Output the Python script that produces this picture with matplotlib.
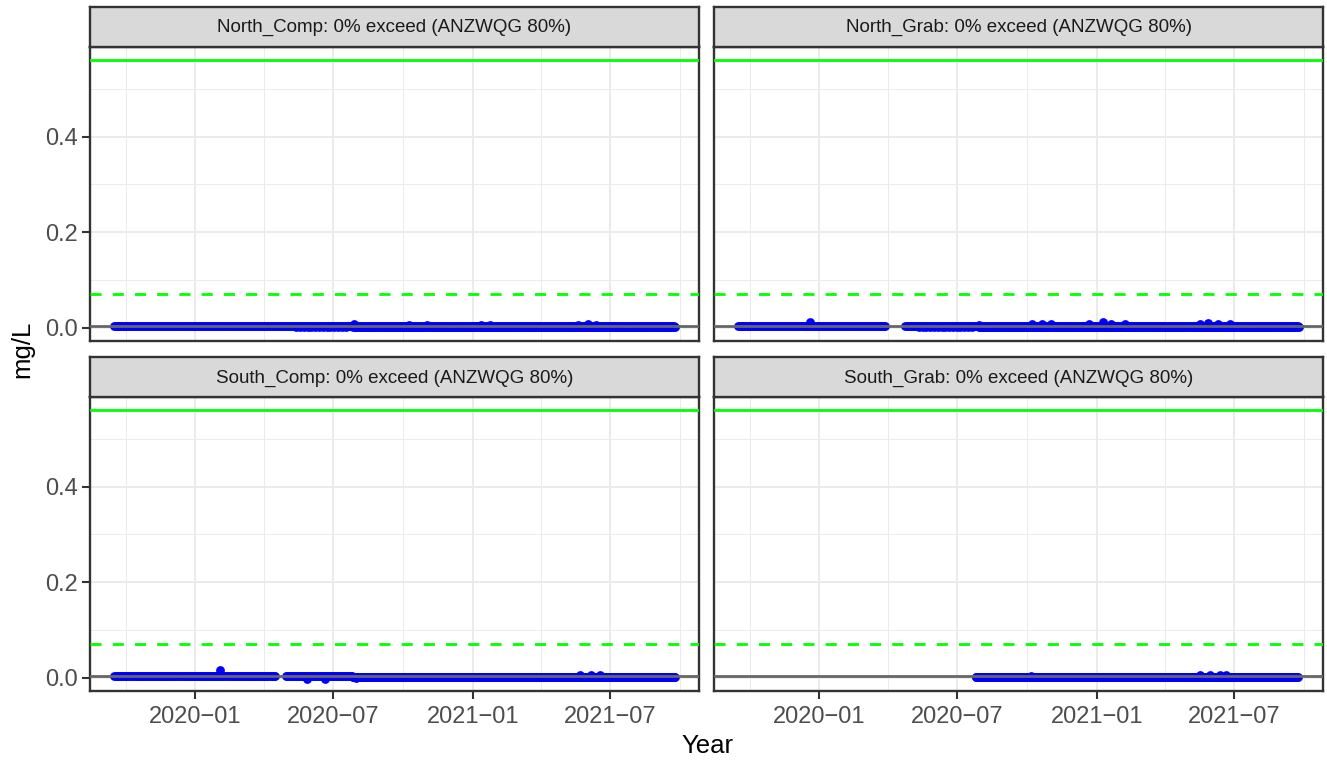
import numpy as np
import pandas as pd
import matplotlib
matplotlib.use("Agg")
import matplotlib.pyplot as plt
import matplotlib.dates as mdates
from matplotlib.ticker import FormatStrFormatter

plt.rcParams['font.family'] = ['Liberation Sans', 'DejaVu Sans']

# ---- data ----
sites = ["North_Comp", "North_Grab", "South_Comp", "South_Grab"]
exceed_pct = [0, 0, 0, 0]
guideline = "ANZWQG 80%"
trigger_high = 0.56      # solid green
trigger_low = 0.07       # dashed green
median_level = 0.003     # grey line

# sampling runs: (first date, last date, level mg/L, days between samples)
north_comp_runs = [("2019-09-16", "2021-09-24", 0.003, 2),
                   ("2020-05-13", "2020-07-20", 0.0005, 5),
                   ("2020-07-27", "2021-09-24", 0.001, 2)]
north_comp_peak_dates = ["2020-07-28", "2020-10-08", "2020-11-01", "2021-01-11",
                         "2021-01-24", "2021-05-20", "2021-06-01", "2021-06-12"]
north_comp_peak_vals = [0.007, 0.006, 0.006, 0.005, 0.005, 0.006, 0.007, 0.006]

north_grab_runs = [("2019-09-16", "2020-03-29", 0.003, 2),
                   ("2020-04-23", "2021-09-24", 0.003, 2),
                   ("2020-05-11", "2020-07-20", 0.0005, 5),
                   ("2020-07-29", "2021-09-24", 0.0008, 2)]
north_grab_peak_dates = ["2019-12-20", "2020-07-29", "2020-10-07", "2020-10-20",
                         "2020-11-02", "2020-12-22", "2021-01-09", "2021-01-20",
                         "2021-02-07", "2021-05-17", "2021-05-28", "2021-06-10",
                         "2021-06-25"]
north_grab_peak_vals = [0.011, 0.006, 0.008, 0.007, 0.007, 0.007, 0.012, 0.008,
                        0.007, 0.007, 0.010, 0.008, 0.007]

south_comp_runs = [("2019-09-16", "2020-04-16", 0.004, 2),
                   ("2020-04-29", "2020-07-26", 0.004, 2),
                   ("2020-07-27", "2021-09-24", 0.0015, 2),
                   ("2020-07-27", "2021-09-24", 0.0008, 3)]
south_comp_peak_dates = ["2020-02-03", "2020-05-27", "2020-06-20", "2020-07-31",
                         "2021-05-22", "2021-06-05", "2021-06-18"]
south_comp_peak_vals = [0.015, -0.002, -0.002, -0.001, 0.005, 0.006, 0.005]

south_grab_runs = [("2020-07-26", "2021-09-24", 0.0015, 2),
                   ("2020-07-26", "2021-09-24", 0.0005, 3)]
south_grab_peak_dates = ["2020-10-06", "2021-05-17", "2021-05-30", "2021-06-12",
                         "2021-06-20"]
south_grab_peak_vals = [0.004, 0.005, 0.006, 0.006, 0.005]

all_runs = [north_comp_runs, north_grab_runs, south_comp_runs, south_grab_runs]
all_peak_dates = [north_comp_peak_dates, north_grab_peak_dates,
                  south_comp_peak_dates, south_grab_peak_dates]
all_peak_vals = [north_comp_peak_vals, north_grab_peak_vals,
                 south_comp_peak_vals, south_grab_peak_vals]

# ---- layout ----
W, H = 1327, 764
fig = plt.figure(figsize=(W / 100, H / 100), dpi=100)

def px_axes(x0, y0, x1, y1):
    return fig.add_axes([x0 / W, 1 - y1 / H, (x1 - x0) / W, (y1 - y0) / H])

cols = [(90, 699), (714, 1323)]
rows = [(6.7, 46.7, 341), (357, 397, 691)]

xmin, xmax = pd.Timestamp("2019-08-15"), pd.Timestamp("2021-10-26")
major_x = pd.to_datetime(["2020-01-01", "2020-07-01", "2021-01-01", "2021-07-01"])
minor_x = pd.to_datetime(["2019-10-01", "2020-04-01", "2020-10-01", "2021-04-01", "2021-10-01"])
dark = "#333333"

for k in range(4):
    r, c = divmod(k, 2)
    x0, x1 = cols[c]
    sy0, py0, py1 = rows[r]

    ax = px_axes(x0, py0, x1, py1)
    ax.set_xlim(xmin, xmax)
    ax.set_ylim(-0.028, 0.588)
    ax.set_xticks(major_x)
    ax.set_xticks(minor_x, minor=True)
    ax.set_yticks([0.0, 0.2, 0.4])
    ax.set_yticks([0.1, 0.3, 0.5], minor=True)
    ax.grid(which="major", color="#EBEBEB", lw=1.4)
    ax.grid(which="minor", color="#EBEBEB", lw=0.7)
    ax.set_axisbelow(True)

    for start, end, lvl, step in all_runs[k]:
        d = pd.date_range(start, end, freq=f"{step}D")
        ax.scatter(d, np.full(len(d), lvl), s=40, color="#0000FF", lw=0, zorder=3)
    ax.scatter(pd.to_datetime(all_peak_dates[k]), all_peak_vals[k], s=40,
               color="#0000FF", lw=0, zorder=3)

    ax.axhline(median_level, color="#666666", lw=2, zorder=4)
    ax.axhline(trigger_high, color="#00FF00", lw=2, zorder=4)
    ax.axhline(trigger_low, color="#00FF00", lw=2, ls=(0, (4, 4)), zorder=4)

    for s in ax.spines.values():
        s.set_color(dark)
        s.set_linewidth(1.7)
    ax.tick_params(which="minor", length=0)
    ax.xaxis.set_major_formatter(mdates.DateFormatter("%Y\u2212%m"))
    ax.yaxis.set_major_formatter(FormatStrFormatter("%.1f"))
    ax.tick_params(which="major", labelsize=17, labelcolor="#4D4D4D",
                   color=dark, width=1.5)
    if c == 0:
        ax.tick_params(axis="y", length=5.5, pad=3)
    else:
        ax.tick_params(axis="y", length=0, labelleft=False)
    if r == 1:
        ax.tick_params(axis="x", length=5.5, pad=5)
    else:
        ax.tick_params(axis="x", length=0, labelbottom=False)

    sax = px_axes(x0, sy0, x1, py0)
    sax.set_facecolor("#D9D9D9")
    sax.set_xticks([])
    sax.set_yticks([])
    for s in sax.spines.values():
        s.set_color(dark)
        s.set_linewidth(1.7)
    sax.text(0.5, 0.47, f"{sites[k]}: {exceed_pct[k]}% exceed ({guideline})",
             ha="center", va="center", fontsize=13.5, color="#1A1A1A",
             transform=sax.transAxes)

fig.text(22 / W, 1 - 349 / H, "mg/L", rotation=90, fontsize=18.5,
         ha="center", va="center")
fig.text(707 / W, 1 - 746 / H, "Year", fontsize=18.5, ha="center", va="center")

fig.savefig("out.png", dpi=100)
